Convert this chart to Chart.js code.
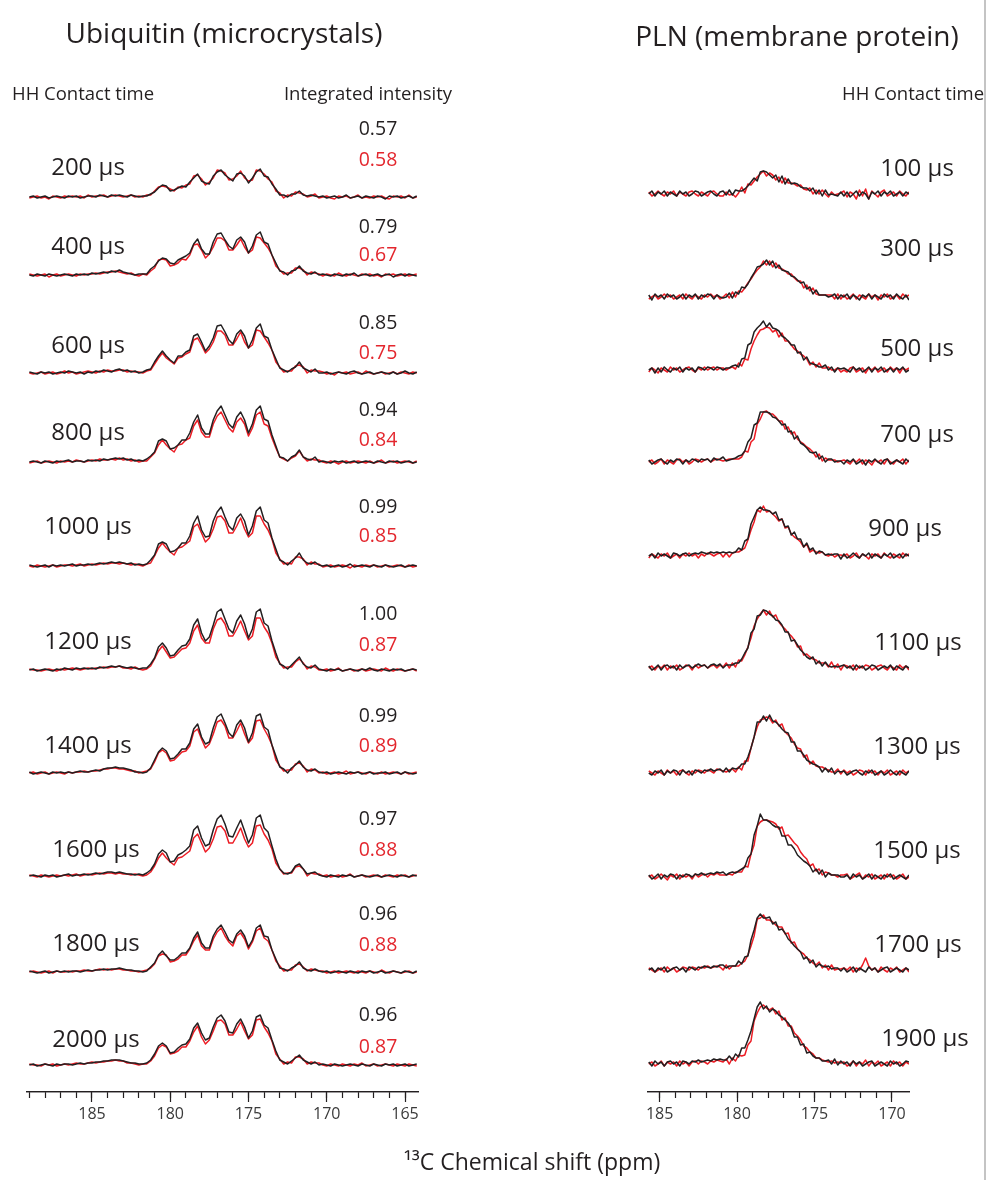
<!DOCTYPE html>
<html>
<head>
<meta charset="utf-8">
<title>HH contact time series: Ubiquitin and PLN</title>
<script src="https://cdn.jsdelivr.net/npm/chart.js@4/dist/chart.umd.min.js"></script>
<style>
  html, body { margin: 0; padding: 0; background: #ffffff; }
  #fig { position: relative; width: 989px; height: 1180px; overflow: hidden;
         font-family: "Open Sans", "Noto Sans", sans-serif; color: #231f20; }
  #fig canvas { position: absolute; top: 0; }
  .txt { position: absolute; white-space: nowrap; line-height: 1; }
  .c { transform: translate(-50%, -50%); }
  .l { transform: translate(0, -50%); }
  .red { color: #e3262d; }
  .frame { position: absolute; left: 984px; top: 0; width: 2px; height: 1180px; background: #c4c4c4; z-index: 5; }
</style>
</head>
<body>
<div id="fig">
  <canvas id="ubqChart" width="440" height="1180" style="left:0px"></canvas>
  <canvas id="plnChart" width="340" height="1180" style="left:600px"></canvas>
  <div class="frame"></div>
</div>
<script>
// ---------------- data ----------------
// chemical-shift sampling of each spectrum (ppm of first point, spacing)
const ubqShiftStart = 189.0, ubqShiftStep = 0.25;   // 100 points
const plnShiftStart = 185.7, plnShiftStep = 0.2;    // 85 points

// axis ticks (ppm)
const ubqMajorTicks = [165, 170, 175, 180, 185];
const ubqMinorTicks = [165,166,167,168,169,170,171,172,173,174,175,176,177,178,179,180,181,182,183,184,185,186,187,188,189];
const plnMajorTicks = [170, 175, 180, 185];
const plnMinorTicks = [170,171,172,173,174,175,176,177,178,179,180,181,182,183,184,185];

const ubqContactTimes = [200, 400, 600, 800, 1000, 1200, 1400, 1600, 1800, 2000];
const plnContactTimes = [100, 300, 500, 700, 900, 1100, 1300, 1500, 1700, 1900];
const ubqIntegralBlack = [0.57, 0.79, 0.85, 0.94, 0.99, 1.00, 0.99, 0.97, 0.96, 0.96];
const ubqIntegralRed   = [0.58, 0.67, 0.75, 0.84, 0.85, 0.87, 0.89, 0.88, 0.88, 0.87];

// Ubiquitin carbonyl spectra, black traces (arbitrary intensity units)
const ubqBlack = [
 [0,1,-1,0,1,-1,0,1,0,-1,1,0,1,-1,0,1,1,0,2,1,0,2,1,2,1,0,2,1,0,1,
  1,3,5,9,12,11,6,7,9,11,10,15,19,23,16,14,13,21,25,27,22,19,16,23,24,21,14,19,25,28,21,20,13,8,2,2,0,3,3,6,2,1,2,1,0,
  1,-1,0,1,-1,0,2,-1,0,1,-1,1,0,-1,1,0,-2,1,0,1,-1,0,1,-1,1],
 [0,-1,1,0,-1,1,0,-1,0,1,0,-1,1,0,1,0,2,1,2,3,2,4,3,5,3,2,1,0,1,1,
  1,6,9,14,17,16,12,11,15,17,19,22,31,36,26,21,21,33,41,42,35,29,26,35,38,33,22,29,40,43,33,31,20,12,4,3,0,4,5,9,4,2,1,3,0,
  1,0,-1,1,0,-1,1,0,2,-1,0,1,-1,0,1,-1,0,1,-2,0,1,-1,1,0,-1],
 [1,0,-1,1,0,1,-1,0,1,0,2,1,0,1,-1,1,0,2,1,3,2,1,3,4,2,3,1,2,0,1,
  3,4,11,17,22,17,13,10,17,17,21,23,37,39,31,22,27,35,47,48,41,33,29,39,43,37,25,33,45,49,37,35,23,14,5,3,1,4,6,11,5,3,1,4,0,
  0,1,-1,0,1,0,-1,1,2,0,-1,0,1,-1,0,1,0,-1,1,-1,0,2,0,-1,1],
 [0,1,0,-1,1,0,-1,1,0,1,2,0,1,1,0,2,1,2,1,3,2,3,4,3,4,2,3,1,2,1,
  3,6,10,21,23,21,13,14,17,22,22,29,40,47,34,28,28,42,51,56,47,38,34,45,50,42,29,38,52,56,43,41,27,16,5,4,1,5,7,12,5,3,2,5,0,
  1,0,-1,1,0,1,-1,0,1,-1,0,1,0,-1,1,0,-1,1,0,1,-1,0,1,-1,0],
 [1,0,-1,0,1,-1,1,0,1,0,1,2,0,1,1,2,1,2,3,2,3,4,3,4,3,2,3,1,2,1,
  2,6,11,22,24,22,14,15,18,23,23,30,43,50,36,29,30,45,54,59,49,40,36,48,52,45,31,40,55,59,46,43,28,17,6,4,1,5,8,13,6,3,2,4,1,
  0,1,-1,0,1,-1,0,2,-1,0,1,0,-1,1,0,-1,1,0,-1,0,1,-1,0,1,0],
 [0,1,-1,0,1,0,-1,1,0,2,1,0,2,1,2,1,2,1,3,2,3,4,3,4,3,2,3,2,1,2,
  2,6,12,23,27,22,14,15,20,24,25,31,45,51,37,29,33,45,58,61,51,41,37,49,55,46,32,41,58,61,47,44,29,17,6,4,1,5,9,13,6,3,2,5,1,
  0,-1,1,0,1,-1,0,1,0,-1,1,0,2,0,-1,1,0,-1,1,0,1,-1,0,1,0],
 [1,-1,0,1,0,-1,1,0,1,0,1,0,1,2,1,1,2,3,2,4,5,5,6,5,5,4,3,1,1,0,
  1,5,13,21,25,22,14,15,19,24,24,30,44,49,36,29,31,45,56,59,50,40,36,48,53,45,31,40,57,59,46,43,28,17,6,4,0,5,8,12,6,3,2,4,1,
  0,1,-1,0,1,0,-1,1,0,1,-1,0,1,-1,0,0,1,-1,0,1,-1,1,0,-1,0],
 [0,1,0,-1,1,0,1,-1,0,1,2,0,1,1,2,1,2,3,2,3,4,4,3,4,3,2,2,1,2,1,
  3,6,12,22,26,23,14,15,21,23,26,30,46,50,38,30,32,46,57,61,52,40,39,48,56,45,33,41,58,61,48,44,30,17,7,3,2,4,10,12,7,2,3,4,1,
  0,-1,1,0,-1,1,0,1,-1,0,1,0,-1,0,1,-1,0,1,0,-1,1,0,-1,1,0],
 [1,0,-1,0,1,-1,0,1,0,1,0,1,1,0,1,2,1,2,2,3,2,3,3,4,3,2,2,1,1,0,
  1,5,9,17,21,16,12,12,15,19,19,24,34,40,29,24,24,36,43,47,40,32,29,38,42,36,25,32,44,47,36,35,22,13,4,3,1,4,6,10,4,2,1,3,1,
  0,1,-1,0,1,0,-1,1,0,-1,1,0,1,-1,0,1,-1,0,1,0,-1,1,0,-1,1],
 [0,1,-1,0,1,0,-1,1,0,1,1,0,1,2,1,2,2,3,3,4,4,5,5,5,4,3,2,2,1,1,
  2,5,11,19,22,19,12,13,17,20,21,26,37,42,32,25,27,38,47,50,44,33,32,41,46,38,27,34,48,50,40,37,25,14,5,3,1,4,7,10,5,3,1,3,0,
  1,0,-1,1,0,-1,0,1,0,-1,1,0,-1,1,0,-1,1,0,1,-1,0,1,-1,0,1]
];

// Ubiquitin carbonyl spectra, red traces
const ubqRed = [
 [-1,0,1,-1,0,-2,1,0,-1,1,0,1,0,1,-1,2,0,1,1,2,0,1,2,1,0,1,2,0,1,0,
  2,2,6,10,11,10,8,6,10,9,12,13,21,22,18,12,15,19,27,26,24,17,18,21,26,19,16,17,27,26,23,18,15,6,4,-1,2,1,5,4,3,0,1,3,-1,
  0,1,-1,-2,1,0,1,-1,0,2,-1,0,-1,1,0,1,-1,-2,1,0,1,-1,2,-1,0],
 [1,0,-1,0,1,-2,0,1,-1,0,1,0,-1,1,0,1,1,2,1,2,3,3,4,3,2,1,2,0,-1,1,
  0,4,7,15,16,15,9,10,12,16,15,20,30,31,25,17,21,28,37,37,34,25,25,30,36,28,22,25,38,37,32,27,20,9,5,1,2,2,7,7,5,0,3,2,1,
  -1,1,0,-1,2,0,-1,1,0,-1,1,0,1,-1,0,-2,1,0,1,-1,0,1,-1,0,1],
 [0,-1,0,1,-1,0,1,-1,0,2,0,1,-1,0,1,2,1,0,2,1,3,2,2,3,3,1,2,1,1,0,
  2,3,9,15,20,15,12,9,15,16,19,21,33,35,28,20,24,31,42,42,38,28,28,34,41,31,25,28,43,42,36,30,23,11,6,1,2,2,7,8,6,0,3,2,2,
  1,-1,0,-2,1,0,1,-1,0,1,-1,2,0,-1,0,1,-1,0,1,-1,1,0,-1,1,0],
 [-1,0,1,-1,0,1,0,-1,1,0,1,0,2,1,0,1,2,1,3,2,2,3,2,4,2,3,1,2,0,1,
  1,5,9,17,22,17,13,10,17,18,22,24,36,42,30,25,25,38,46,50,42,34,30,40,44,38,26,34,47,50,38,36,24,14,5,3,1,4,6,11,5,1,3,2,2,
  0,-1,1,0,-2,0,1,-1,0,1,0,-1,1,-1,0,2,-1,0,1,-1,0,1,0,-1,1],
 [0,-1,1,0,-1,0,1,-1,0,1,1,0,1,2,0,1,2,1,2,3,2,3,3,2,3,2,1,2,1,0,
  2,3,10,18,23,18,14,11,18,19,22,25,39,42,33,24,28,37,49,50,45,33,33,40,48,37,29,33,50,50,42,36,27,13,7,2,3,2,9,9,7,1,4,2,2,
  -1,0,1,-1,0,1,0,-2,1,0,-1,1,0,1,-1,0,1,-1,0,1,0,-1,1,-1,0],
 [1,0,0,-1,0,1,0,-1,1,0,1,2,1,0,1,2,1,2,2,3,2,3,3,4,2,2,1,3,1,0,
  1,4,11,19,24,18,12,13,17,21,22,27,39,45,32,27,27,41,50,52,46,34,34,41,49,39,30,34,52,52,43,37,27,13,7,2,3,3,8,11,7,1,4,3,0,
  0,1,-1,0,2,-1,0,1,-1,0,1,-1,0,1,0,-1,2,0,-1,1,0,-1,0,1,-1],
 [0,1,-1,0,1,-1,0,1,0,-1,1,0,1,1,2,1,2,2,3,4,4,5,5,4,4,3,2,2,0,1,
  2,4,11,20,23,20,12,13,17,21,22,27,41,44,34,25,29,39,51,53,47,35,35,42,50,39,30,35,52,53,44,37,28,13,7,2,3,3,9,10,7,1,4,3,0,
  1,-1,0,1,-1,0,2,-1,0,1,0,-1,1,0,-1,1,-1,0,1,0,-1,1,-1,0,1],
 [1,0,-1,1,0,-1,0,1,0,1,0,1,2,0,1,2,1,2,3,2,3,3,2,3,2,2,1,2,1,0,
  1,4,10,18,23,18,14,11,18,19,22,25,38,42,33,24,28,37,49,50,45,33,33,40,48,37,29,33,50,51,42,36,27,13,7,2,3,3,9,10,7,0,3,2,2,
  0,1,-1,0,1,-1,0,2,-1,0,1,-1,0,1,0,-1,1,0,-1,1,0,1,-1,0,1],
 [0,1,0,-1,0,1,-1,1,0,0,1,0,1,1,2,1,1,2,3,2,3,2,3,3,2,2,1,1,0,1,
  2,4,8,16,18,17,10,11,13,17,17,23,31,37,26,22,22,33,40,44,36,30,26,36,39,33,23,30,41,44,34,31,22,11,6,1,2,2,7,8,5,1,3,2,1,
  1,-1,0,1,-1,0,1,0,-1,1,0,-1,1,0,-1,2,0,-1,1,0,-1,0,1,-1,0],
 [1,0,0,-1,1,0,1,-1,0,1,0,1,2,1,1,2,3,2,3,3,4,4,5,4,4,2,2,1,0,1,
  1,4,9,17,20,18,11,12,14,18,18,24,33,39,28,21,25,34,44,45,41,30,30,36,43,34,26,30,45,46,38,32,24,11,6,1,3,2,8,8,6,1,3,2,2,
  0,-1,1,0,-1,1,0,-1,1,0,2,-1,0,1,-1,0,1,0,-1,1,0,-1,1,0,-1]
];

// PLN carbonyl spectra, black traces
const plnBlack = [
 [0,3,-2,2,0,3,-2,2,0,-2,3,0,2,-2,0,3,2,-2,0,2,3,0,-2,2,
  3,-1,4,-1,4,3,3,5,8,12,16,13,22,23,22,19,16,19,12,18,10,15,10,11,10,7,6,6,3,6,0,4,-2,4,-1,0,-1,-2,2,
  -2,2,-3,0,3,-2,2,0,-5,2,0,3,-2,2,0,3,-2,0,2,-2,2,0],
 [2,-3,3,0,2,-2,3,0,2,-2,0,3,-2,2,0,3,-2,2,0,3,2,-2,2,0,
  -1,0,4,-1,5,3,10,9,13,19,24,30,31,33,37,32,36,29,32,27,26,25,21,20,17,14,15,8,10,3,7,2,2,2,0,1,3,-2,2,
  0,3,-2,2,0,-3,2,0,3,-2,2,0,-2,3,0,2,-2,3,0,-2,2,-3],
 [0,2,-3,2,-2,3,0,-2,2,0,3,-2,2,0,2,-2,3,2,0,3,2,0,3,2,
  0,2,2,4,5,3,11,12,25,27,38,42,45,49,43,47,42,41,39,34,32,29,25,25,17,18,10,13,7,6,5,3,3,5,0,3,-2,2,1,
  2,0,-2,3,0,2,-2,0,3,-2,2,0,3,-2,0,2,-2,2,0,3,-2,0],
 [2,-2,0,2,3,0,-2,2,0,3,2,-2,2,0,3,2,0,3,2,3,0,4,2,3,
  5,1,2,3,4,6,7,11,20,24,37,39,50,50,50,49,45,44,41,37,38,30,31,23,26,19,17,14,10,9,10,3,6,0,3,3,0,1,1,
  -2,2,0,3,-2,0,2,-3,2,0,3,0,-2,2,3,-2,0,2,0,-2,3,0],
 [0,2,-2,3,0,2,0,-2,3,2,0,2,3,0,2,3,2,4,3,2,4,3,4,3,
  4,3,4,3,4,8,6,15,17,32,39,46,49,46,46,45,42,44,36,37,29,30,21,24,17,17,9,13,6,8,2,5,4,1,2,1,2,2,-3,
  2,-2,0,3,0,-2,2,0,3,-2,2,0,-2,2,0,3,-2,0,2,-2,2,0],
 [2,-2,0,3,-2,2,3,0,2,-2,3,0,2,3,0,2,4,2,3,0,3,4,2,4,
  0,3,3,3,5,5,9,15,20,35,39,52,53,58,57,54,52,48,47,43,36,36,27,28,23,18,15,11,9,11,4,7,2,6,2,1,2,1,2,
  3,0,2,-2,3,0,2,-2,0,3,2,-2,0,2,0,3,-2,2,0,-2,2,0],
 [0,-2,2,0,3,-2,2,0,3,2,-2,3,0,2,-2,3,2,0,3,2,4,2,3,4,
  1,5,1,5,4,5,9,9,16,25,36,51,51,57,52,58,52,51,48,44,41,40,31,31,22,22,18,13,11,9,8,6,1,5,1,5,-1,2,1,
  2,-2,0,2,3,0,-2,2,0,3,-2,0,2,-2,0,3,0,-2,2,0,-2,2],
 [2,-2,0,3,-2,2,0,3,2,-2,2,0,3,2,0,3,2,4,2,3,4,3,5,4,
  5,2,4,5,4,6,8,10,19,23,42,51,63,57,57,55,52,50,50,41,41,32,32,28,22,19,16,14,11,5,8,3,7,0,4,2,2,2,0,
  0,2,-2,3,0,2,-2,0,3,-2,2,0,-2,2,0,3,-2,0,2,0,-2,2],
 [0,2,-2,2,0,3,-2,0,2,3,0,2,-2,3,2,0,3,2,4,3,2,4,3,5,
  5,2,4,4,4,9,6,13,14,30,40,52,56,52,52,53,46,48,40,41,37,31,28,24,21,18,11,13,7,10,3,6,4,3,4,1,2,2,-1,
  2,-2,0,3,-2,2,0,-2,3,0,2,-2,0,2,3,-2,0,2,0,-2,2,0],
 [2,-2,3,0,2,-2,2,3,0,2,-2,3,2,0,3,2,4,2,3,4,3,5,4,5,
  4,4,8,4,10,7,16,16,24,33,45,57,62,55,58,52,55,53,49,47,44,41,36,27,27,19,20,11,12,8,6,6,3,3,4,0,5,-1,3,
  0,2,-2,3,0,2,-2,0,2,3,-2,0,2,0,-2,3,0,2,-2,0,3,2]
];

// PLN carbonyl spectra, red traces
const plnRed = [
 [2,-2,0,3,0,-2,2,0,3,-2,2,0,-2,2,3,0,-2,2,0,-2,2,3,0,-2,
  -2,2,-1,0,-3,1,7,1,10,9,13,17,20,23,18,21,19,14,17,11,16,11,11,10,8,9,5,4,6,0,4,0,4,0,-3,2,-1,0,1,
  3,-3,2,0,-5,4,-2,5,-5,3,0,-3,2,4,-2,0,2,-2,3,0,-2,2],
 [-2,0,2,-2,0,3,0,2,-2,0,2,-2,3,0,-2,2,0,-2,2,0,3,0,2,-2,
  0,3,-1,5,0,6,5,9,14,18,23,27,30,36,32,36,30,34,29,28,26,23,23,19,16,16,9,12,6,9,3,2,2,2,2,2,-2,3,-2,
  2,-2,0,3,-2,2,0,-2,3,0,2,-3,2,0,3,-2,0,2,-2,3,0,2],
 [-2,2,0,-3,2,0,-2,3,0,2,-2,0,2,3,0,-2,2,0,3,0,2,3,0,2,
  2,0,2,3,1,7,4,11,10,21,29,35,40,41,43,42,38,40,33,37,29,29,25,21,19,16,14,11,5,8,3,7,2,2,3,0,0,2,-2,
  0,-2,2,3,-2,0,2,-3,2,0,3,-2,0,2,-2,3,0,2,-3,2,0,2],
 [0,2,-2,0,3,-2,2,0,-2,2,3,0,2,-2,0,3,2,0,2,3,0,2,3,2,
  1,2,3,3,3,3,5,11,10,20,23,38,43,50,51,48,48,45,41,41,33,35,28,30,23,20,18,15,13,10,5,8,1,4,2,2,2,0,1,
  2,0,-2,2,0,3,-2,2,0,-3,2,0,2,-2,3,0,-2,2,0,3,-2,2],
 [-2,2,0,-2,2,0,3,-2,0,2,-2,2,0,3,0,2,-2,2,0,3,2,0,2,3,
  -1,3,-1,3,4,4,6,8,16,26,34,46,44,50,44,45,42,39,35,37,28,29,22,19,17,14,9,12,4,6,4,3,4,1,0,2,-1,1,1,
  0,2,-2,0,3,-2,2,0,-3,2,0,2,-2,3,0,-2,2,0,-2,3,0,2],
 [0,2,-2,2,0,3,-2,2,0,3,-2,0,3,2,-2,3,0,2,3,0,2,3,0,3,
  1,5,0,5,1,8,7,13,21,30,42,49,54,58,53,57,51,53,46,42,39,35,32,28,21,22,13,14,11,9,8,5,5,5,1,6,0,4,-2,
  3,2,0,3,-2,2,0,3,2,-2,0,2,3,0,-2,2,0,-2,3,0,2,-2],
 [2,0,-2,2,0,-2,3,0,2,-2,2,3,0,-2,2,0,3,2,0,3,2,0,4,3,
  2,1,3,4,1,6,3,12,12,25,36,46,53,54,56,55,50,53,47,49,41,38,35,29,25,24,16,18,9,12,7,6,6,4,3,1,1,4,-1,
  3,0,2,-2,0,3,2,-2,3,0,2,-2,2,0,3,-2,0,2,-2,3,0,2],
 [0,2,-2,0,3,0,-3,2,0,3,-2,2,0,2,-2,3,0,2,3,0,3,2,4,2,
  2,2,3,2,5,5,5,11,10,23,32,51,55,57,57,56,55,53,48,50,41,42,38,34,31,25,21,18,11,13,6,8,2,5,4,2,2,0,2,
  2,3,-2,0,2,4,-2,2,0,3,-2,0,2,-2,3,0,2,-2,0,3,-2,0],
 [2,0,-2,0,2,-2,3,0,2,-2,0,3,2,0,3,2,0,3,2,4,2,3,4,3,
  0,5,1,4,4,4,7,9,15,24,34,51,52,55,50,50,48,45,43,43,36,37,27,28,21,18,16,12,10,7,5,8,2,5,0,5,0,1,1,
  2,0,3,-2,2,0,5,12,4,0,2,-2,3,0,-2,2,0,3,-2,0,2,-2],
 [0,2,-2,0,3,-2,2,0,2,-2,3,0,2,-2,2,3,0,3,2,0,3,2,4,3,
  2,5,0,6,3,9,8,9,19,23,43,51,57,59,56,54,56,50,53,44,46,38,38,31,28,24,18,16,12,10,6,6,4,3,2,3,1,2,1,
  2,-2,0,3,-2,2,0,4,-2,2,0,3,-2,0,2,-2,3,0,2,-2,2,0]
];

// ---------------- layout ----------------
const ink = '#231f20', redInk = '#ed1c24';
const plotUnits = 992;                       // vertical extent of each panel's value axis
const ubqBaseline = [895, 817, 719, 630, 526, 422, 319, 216, 120, 27];
const plnBaseline = [898, 795, 722, 630, 536, 424, 319, 215, 122, 28];

function traceSets(rows, start, step, baseline, color, order) {
  return rows.map((row, k) => ({
    data: row.map((v, i) => ({ x: start - step * i, y: v + baseline[k] })),
    xAxisID: 'x',
    borderColor: color,
    borderWidth: 1.5,
    borderJoinStyle: 'round',
    pointRadius: 0,
    tension: 0,
    fill: false,
    order: order
  }));
}

function fixedTicks(values) {
  return (scale) => { scale.ticks = values.map((v) => ({ value: v })); };
}

function panelOptions(xmin, xmax, pad, majorTicks, minorTicks) {
  const tickFont = { family: '"Open Sans", sans-serif', size: 16 };
  return {
    responsive: false,
    animation: false,
    events: [],
    layout: { padding: pad },
    plugins: { legend: { display: false }, tooltip: { enabled: false }, title: { display: false } },
    scales: {
      y: { display: false, min: 0, max: plotUnits },
      xMinor: {
        type: 'linear', position: 'bottom', reverse: true, min: xmin, max: xmax, weight: 0,
        afterBuildTicks: fixedTicks(minorTicks),
        ticks: { autoSkip: false, display: false },
        grid: { drawOnChartArea: false, drawTicks: true, tickLength: 6, tickColor: ink, tickWidth: 1.2 },
        border: { display: true, color: ink, width: 1.2 },
        afterFit: (s) => { s.height = 0; }
      },
      x: {
        type: 'linear', position: 'bottom', reverse: true, min: xmin, max: xmax, weight: 1,
        afterBuildTicks: fixedTicks(majorTicks),
        ticks: { autoSkip: false, maxRotation: 0, color: '#3a3a3a', font: tickFont, padding: 3,
                 callback: (v) => String(v) },
        grid: { drawOnChartArea: false, drawTicks: true, tickLength: 10, tickColor: ink, tickWidth: 1.2 },
        border: { display: true, color: ink, width: 1.2 },
        afterFit: (s) => { s.height = 40; }
      }
    }
  };
}

new Chart(document.getElementById('ubqChart'), {
  type: 'line',
  data: { datasets: [
    ...traceSets(ubqBlack, ubqShiftStart, ubqShiftStep, ubqBaseline, ink, 0),
    ...traceSets(ubqRed, ubqShiftStart, ubqShiftStep, ubqBaseline, redInk, 1)
  ] },
  options: panelOptions(164.17, 189.15, { left: 27, right: 22, top: 100, bottom: 48 }, ubqMajorTicks, ubqMinorTicks)
});

new Chart(document.getElementById('plnChart'), {
  type: 'line',
  data: { datasets: [
    ...traceSets(plnBlack, plnShiftStart, plnShiftStep, plnBaseline, ink, 0),
    ...traceSets(plnRed, plnShiftStart, plnShiftStep, plnBaseline, redInk, 1)
  ] },
  options: panelOptions(168.9, 185.75, { left: 48, right: 31, top: 100, bottom: 48 }, plnMajorTicks, plnMinorTicks)
});

// ---------------- annotations ----------------
const fig = document.getElementById('fig');
function addText(text, x, y, size, anchor, extraClass) {
  const d = document.createElement('div');
  d.className = 'txt ' + anchor + (extraClass ? ' ' + extraClass : '');
  d.textContent = text;
  d.style.left = x + 'px';
  d.style.top = y + 'px';
  d.style.fontSize = size + 'px';
  fig.appendChild(d);
  return d;
}

addText('Ubiquitin (microcrystals)', 224, 32, 28, 'c');
addText('PLN (membrane protein)', 797, 35, 28, 'c');
addText('HH Contact time', 12, 93, 18.5, 'l');
addText('Integrated intensity', 368, 93, 18.5, 'c');
addText('HH Contact time', 842, 93, 18.5, 'l');
addText('\u00B9\u00B3C Chemical shift (ppm)', 532, 1161, 23, 'c');

const ubqTimePos = [[88,166],[88,245],[88,344],[88,431],[88,525],[88,640],[88,744],[96,848],[96,942],[96,1038]];
const ubqBlackValueY = [128, 226, 322, 409, 506, 613, 715, 818, 913, 1014];
const ubqRedValueY   = [159, 254, 352, 439, 535, 644, 745, 849, 944, 1046];
const plnTimePos = [[917,167],[917,247],[917,347],[917,433],[905,527],[918,641],[917,745],[917,849],[918,943],[925,1037]];

ubqContactTimes.forEach((t, k) => {
  addText(t + ' \u00B5s', ubqTimePos[k][0], ubqTimePos[k][1], 24, 'c');
  addText(ubqIntegralBlack[k].toFixed(2), 378, ubqBlackValueY[k], 19.5, 'c');
  addText(ubqIntegralRed[k].toFixed(2), 378, ubqRedValueY[k], 19.5, 'c', 'red');
});
plnContactTimes.forEach((t, k) => {
  addText(t + ' \u00B5s', plnTimePos[k][0], plnTimePos[k][1], 24, 'c');
});
</script>
</body>
</html>
